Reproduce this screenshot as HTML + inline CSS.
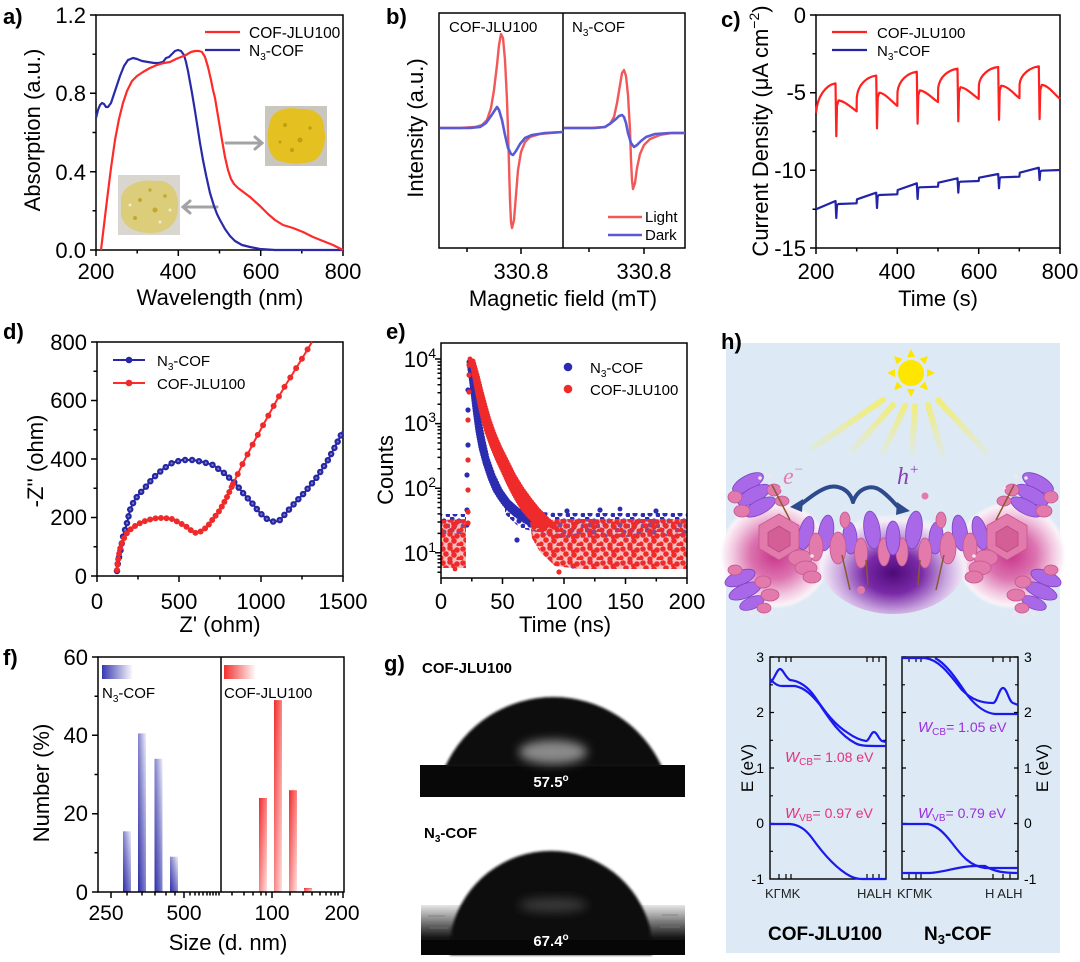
<!DOCTYPE html>
<html><head><meta charset="utf-8">
<style>
html,body{margin:0;padding:0;background:#fff}
svg{display:block}
text{font-family:"Liberation Sans",Arial,sans-serif}
</style></head>
<body>
<svg width="1080" height="962" viewBox="0 0 1080 962" xmlns="http://www.w3.org/2000/svg">
<defs>
  <pattern id="pr" width="20" height="14" patternUnits="userSpaceOnUse">
    <rect width="20" height="14" fill="#f47070" opacity="0.45"/>
    <circle cx="3" cy="3" r="2.8" fill="#ee2a2a"/><circle cx="10" cy="2" r="2.8" fill="#ee2a2a"/>
    <circle cx="17" cy="4" r="2.8" fill="#ee2a2a"/><circle cx="6" cy="8" r="2.8" fill="#ee2a2a"/>
    <circle cx="14" cy="9" r="2.8" fill="#ee2a2a"/><circle cx="1" cy="12" r="2.6" fill="#ee2a2a"/>
    <circle cx="10" cy="13" r="2.6" fill="#ee2a2a"/><circle cx="19" cy="13" r="2.6" fill="#ee2a2a"/>
    <circle cx="13" cy="5.5" r="2" fill="#ee2a2a"/>
  </pattern>
  <pattern id="pb" width="15" height="11" patternUnits="userSpaceOnUse">
    <circle cx="2" cy="2" r="2.6" fill="#2c2cb0"/><circle cx="9" cy="4" r="2.6" fill="#2c2cb0"/>
    <circle cx="5" cy="8" r="2.6" fill="#2c2cb0"/><circle cx="13" cy="9" r="2.4" fill="#2c2cb0"/>
  </pattern>
  <linearGradient id="gb" x1="0" y1="1" x2="1" y2="0">
    <stop offset="0" stop-color="#2b2ba6"/><stop offset="0.5" stop-color="#8484cc"/><stop offset="1" stop-color="#eeeefa"/>
  </linearGradient>
  <linearGradient id="gr" x1="0" y1="0" x2="1" y2="1">
    <stop offset="0" stop-color="#f02a2a"/><stop offset="0.5" stop-color="#f88484"/><stop offset="1" stop-color="#fde2e2"/>
  </linearGradient>
  <linearGradient id="lgb" x1="0" y1="0" x2="1" y2="0">
    <stop offset="0" stop-color="#3838b0"/><stop offset="1" stop-color="#ffffff"/>
  </linearGradient>
  <linearGradient id="lgr" x1="0" y1="0" x2="1" y2="0">
    <stop offset="0" stop-color="#f03030"/><stop offset="1" stop-color="#ffffff"/>
  </linearGradient>
  <radialGradient id="gpink">
    <stop offset="0" stop-color="#c9358a"/><stop offset="0.45" stop-color="#dc74b0"/>
    <stop offset="0.75" stop-color="#f2c8e0"/><stop offset="0.92" stop-color="#fbf0f6"/>
    <stop offset="1" stop-color="#ffffff" stop-opacity="0"/>
  </radialGradient>
  <radialGradient id="gpurp" cx="0.5" cy="0.62" r="0.55">
    <stop offset="0" stop-color="#4e0a78"/><stop offset="0.35" stop-color="#7a2aa8"/>
    <stop offset="0.65" stop-color="#c8a4de"/><stop offset="0.88" stop-color="#f4ecf8"/>
    <stop offset="1" stop-color="#ffffff" stop-opacity="0"/>
  </radialGradient>
  <linearGradient id="beam" gradientUnits="userSpaceOnUse" x1="0" y1="400" x2="0" y2="458">
    <stop offset="0" stop-color="#f2ee70" stop-opacity="0.95"/><stop offset="1" stop-color="#f2ee70" stop-opacity="0.05"/>
  </linearGradient>
  <linearGradient id="sub2" x1="0" y1="0" x2="0" y2="1">
    <stop offset="0" stop-color="#e6e6e6"/><stop offset="0.2" stop-color="#a8a8a8"/>
    <stop offset="0.45" stop-color="#555"/><stop offset="0.65" stop-color="#151515"/><stop offset="1" stop-color="#050505"/>
  </linearGradient>
  <filter id="bl" x="-20%" y="-20%" width="140%" height="140%"><feGaussianBlur stdDeviation="1.3"/></filter>
  <filter id="bl5" x="-50%" y="-50%" width="200%" height="200%"><feGaussianBlur stdDeviation="5"/></filter>
</defs>

<!-- ============ Panel a ============ -->
<text x="3" y="24" font-size="22" font-weight="bold">a)</text>
<rect x="96" y="15" width="247" height="235" fill="none" stroke="#000" stroke-width="1.5"/>
<path d="M96,250v6M178.3,250v6M260.7,250v6M343,250v6M137.2,250v3.5M219.5,250v3.5M301.8,250v3.5M96,250h-6M96,171.7h-6M96,93.3h-6M96,15h-6M96,210.8h-3.5M96,132.5h-3.5M96,54.2h-3.5" stroke="#000" stroke-width="1.5"/>
<g font-size="22" text-anchor="end">
<text x="86" y="258">0.0</text><text x="86" y="180">0.4</text><text x="86" y="101">0.8</text><text x="86" y="23">1.2</text>
</g>
<g font-size="22" text-anchor="middle">
<text x="96" y="279">200</text><text x="178" y="279">400</text><text x="261" y="279">600</text><text x="343" y="279">800</text>
<text x="220" y="305">Wavelength (nm)</text>
</g>
<text transform="translate(40,130) rotate(-90)" font-size="22" text-anchor="middle">Absorption (a.u.)</text>
<rect x="265" y="106" width="62" height="60" fill="#c9c6bf"/>
<path d="M270,122 C273,108 290,107 300,109 C313,108 324,114 324,128 C327,141 323,154 315,160 C305,165 289,164 279,161 C268,157 265,138 270,122 Z" fill="#e4c020"/>
<g fill="#c29e16"><circle cx="285" cy="125" r="2"/><circle cx="300" cy="140" r="2.5"/><circle cx="310" cy="128" r="1.8"/><circle cx="292" cy="150" r="2"/><circle cx="280" cy="142" r="1.5"/></g>
<rect x="118" y="175" width="62" height="60" fill="#d8d6cf"/>
<path d="M121,198 C124,184 140,179 155,181 C169,179 179,190 178,205 C179,221 170,231 155,233 C139,234 123,229 121,214 Z" fill="#dccb6a" opacity="0.85"/>
<g fill="#c6a62c"><circle cx="140" cy="200" r="2"/><circle cx="155" cy="210" r="2.5"/><circle cx="165" cy="196" r="1.8"/><circle cx="135" cy="218" r="2"/><circle cx="150" cy="190" r="1.6"/></g>
<g fill="#efeccf"><circle cx="130" cy="205" r="1.5"/><circle cx="160" cy="222" r="1.5"/><circle cx="170" cy="210" r="1.5"/></g>
<g stroke="#a3a3a3" stroke-width="3" fill="none" stroke-linecap="round">
<path d="M226,143 H261 M255,137 L262,143 L255,149"/>
<path d="M217,207 H184 M190,201 L183,207 L190,213"/>
</g>
<polyline fill="none" stroke="#2a2aa8" stroke-width="2.2" stroke-linejoin="round" points="96,118 98,110 100,105 102,103 104,104 106,107 108,107 111,103 114,94 117,85 120,76 124,66 128,60 133,58 137,59 142,61 148,62 154,63 159,63 163,62 166,58 169,57 172,54 175,51 178,50 181,51 184,55 186,62 188,71 190,82 192,93 195,111 198,130 200,143 203,160 206,175 210,193 214,206 217,214 220,220 225,229 230,236 235,241 242,245 250,247 260,249 275,250 343,250"/>
<polyline fill="none" stroke="#ff2a2a" stroke-width="2.2" stroke-linejoin="round" points="101,250 104,225 107,200 111,168 115,140 119,119 123,103 127,91 132,81 137,76 143,72 150,68 157,65 164,63 170,62 176,59 181,57 186,55 191,52 195,51 199,51 202,52 205,57 208,67 211,80 213,90 215,98 218,116 222,140 225,157 228,170 231,179 234,184 238,188 242,191 250,197 260,206 268,214 275,220 283,225 293,228 303,232 313,237 323,241 333,245 343,250"/>
<line x1="205" y1="32" x2="240" y2="32" stroke="#ff2a2a" stroke-width="2.2"/>
<line x1="205" y1="50" x2="240" y2="50" stroke="#2a2aa8" stroke-width="2.2"/>
<text x="249" y="38" font-size="15.5">COF-JLU100</text>
<text x="249" y="56" font-size="15.5">N<tspan font-size="10" dy="4">3</tspan><tspan dy="-4">-COF</tspan></text>

<!-- ============ Panel b ============ -->
<text x="386" y="24" font-size="22" font-weight="bold">b)</text>
<rect x="439" y="13" width="246" height="235" fill="none" stroke="#000" stroke-width="1.5"/>
<line x1="563" y1="13" x2="563" y2="248" stroke="#000" stroke-width="1.5"/>
<path d="M467,248v4M521,248v6M589,248v4M644,248v6" stroke="#000" stroke-width="1.5"/>
<g font-size="22" text-anchor="middle">
<text x="521" y="279">330.8</text><text x="644" y="279">330.8</text>
<text x="563" y="306">Magnetic field (mT)</text>
</g>
<text transform="translate(423,128) rotate(-90)" font-size="22" text-anchor="middle">Intensity (a.u.)</text>
<text x="449" y="32" font-size="15">COF-JLU100</text>
<text x="572" y="32" font-size="15">N<tspan font-size="10" dy="4">3</tspan><tspan dy="-4">-COF</tspan></text>
<polyline fill="none" stroke="#f25858" stroke-width="2.4" stroke-linejoin="round" points="440,128 460,128 475,127 482,125 487,120 491,108 494,90 497,65 499,45 501,34 503,38 505,60 507,100 508,130 509,165 510,200 511,222 512,228 514,220 516,195 518,170 521,152 525,142 530,137 540,134 550,133 563,132"/>
<polyline fill="none" stroke="#5a5ad6" stroke-width="2.6" stroke-linejoin="round" points="440,128 470,128 480,127 486,123 491,116 495,110 497,107 499,110 502,120 505,135 508,148 511,154 513,155 516,151 520,144 525,138 532,135 545,133 563,132"/>
<polyline fill="none" stroke="#f25858" stroke-width="2.4" stroke-linejoin="round" points="564,128 590,128 605,127 610,124 614,117 617,103 620,85 622,73 624,70 626,76 628,95 630,130 631,160 632,180 633,189 635,183 637,168 640,154 644,145 650,139 660,135 672,133 685,133"/>
<polyline fill="none" stroke="#5a5ad6" stroke-width="2.6" stroke-linejoin="round" points="564,128 595,128 605,127 611,123 616,119 619,116 622,115 624,117 626,123 628,133 631,143 634,147 637,145 641,141 646,137 655,134 670,133 685,133"/>
<line x1="608" y1="217" x2="642" y2="217" stroke="#f25858" stroke-width="2.4"/>
<line x1="608" y1="235" x2="642" y2="235" stroke="#5a5ad6" stroke-width="2.6"/>
<text x="645" y="222" font-size="15">Light</text>
<text x="645" y="240" font-size="15">Dark</text>

<!-- ============ Panel c ============ -->
<text x="721" y="27" font-size="22" font-weight="bold">c)</text>
<rect x="816" y="15" width="244" height="233" fill="none" stroke="#000" stroke-width="1.5"/>
<path d="M816,248v6M897.3,248v6M978.7,248v6M1060,248v6M856.7,248v3.5M938,248v3.5M1019.3,248v3.5M816,15h-6M816,92.7h-6M816,170.3h-6M816,248h-6M816,53.8h-3.5M816,131.5h-3.5M816,209.2h-3.5" stroke="#000" stroke-width="1.5"/>
<g font-size="22" text-anchor="end">
<text x="806" y="23">0</text><text x="806" y="100">-5</text><text x="806" y="178">-10</text><text x="806" y="256">-15</text>
</g>
<g font-size="22" text-anchor="middle">
<text x="816" y="279">200</text><text x="897" y="279">400</text><text x="979" y="279">600</text><text x="1060" y="279">800</text>
<text x="938" y="306">Time (s)</text>
</g>
<text transform="translate(768,131) rotate(-90)" font-size="22" text-anchor="middle">Current Density (μA cm<tspan font-size="14" dy="-9">−2</tspan><tspan dy="9">)</tspan></text>
<path fill="none" stroke="#ff2020" stroke-width="2.2" stroke-linejoin="round" d="M816,112.9 C817.3,96 826,85 835.5,83.3 L836.3,136.2 L837,105.4 L838.5,100.4 C844,101 851,107 856.6,111.3 L856.8,97.3 C858,84 867,77 876.2,75.6 L877,128.4 L877.7,97.7 L879.2,92.7 C885,93 892,102 897.3,105.9 L897.5,91.9 C898.7,80 908,73 916.8,71.7 L917.6,123.7 L918.3,95.3 L919.8,90.3 C926,91 933,99 938,102 L938.2,88 C939.4,77 948,70 957.5,68.6 L958.3,121.4 L959,92.2 L960.5,87.2 C967,88 974,96 978.7,98.9 L978.9,84.9 C980,75 989,68 998.2,67 L999,119.8 L999.7,90.7 L1001.2,85.7 C1008,86 1015,95 1019.4,98.1 L1019.6,84.1 C1020.8,74 1030,67.5 1038.8,66.3 L1039.6,119.1 L1040.3,89.9 L1041.8,84.9 C1048,85 1055,95 1060,98.9"/>
<path fill="none" stroke="#2323a8" stroke-width="2.2" stroke-linejoin="round" d="M816,209.3 L835.5,201 L836.3,218 L837,205 L838.5,204 L856.6,203.3 L857,199.3 L876.2,192.7 L877,208 L877.7,196 L879.2,195 L897.3,194.3 L897.7,190 L916.8,183.3 L917.6,199 L918.3,188 L919.8,187.3 L938,186.7 L938.4,182.7 L957.5,178.3 L958.3,192.7 L959,182.5 L960.5,181.7 L978.7,181 L979.1,177.7 L998.2,174 L999,188.3 L999.7,178 L1001.2,177.3 L1019.4,176.7 L1019.8,172.7 L1038.8,167.7 L1039.6,180 L1040.3,171.5 L1041.8,170.7 L1060,170"/>
<line x1="832" y1="32" x2="867" y2="32" stroke="#ff2020" stroke-width="2.2"/>
<line x1="832" y1="50" x2="867" y2="50" stroke="#2323a8" stroke-width="2.2"/>
<text x="877" y="38" font-size="15">COF-JLU100</text>
<text x="877" y="56" font-size="15">N<tspan font-size="10" dy="4">3</tspan><tspan dy="-4">-COF</tspan></text>

<!-- ============ Panel d ============ -->
<text x="3" y="339" font-size="22" font-weight="bold">d)</text>
<rect x="97" y="342" width="246" height="234" fill="none" stroke="#000" stroke-width="1.5"/>
<path d="M97,576v6M179,576v6M261,576v6M343,576v6M138,576v3.5M220,576v3.5M302,576v3.5M97,576h-6M97,517.5h-6M97,459h-6M97,400.5h-6M97,342h-6M97,546.8h-3.5M97,488.3h-3.5M97,429.8h-3.5M97,371.3h-3.5" stroke="#000" stroke-width="1.5"/>
<g font-size="22" text-anchor="end">
<text x="87" y="584">0</text><text x="87" y="525">200</text><text x="87" y="467">400</text><text x="87" y="408">600</text><text x="87" y="350">800</text>
</g>
<g font-size="22" text-anchor="middle">
<text x="97" y="609">0</text><text x="179" y="609">500</text><text x="261" y="609">1000</text><text x="343" y="609">1500</text>
<text x="220" y="632">Z' (ohm)</text>
</g>
<text transform="translate(43,461) rotate(-90)" font-size="22" text-anchor="middle">-Z'' (ohm)</text>
<g fill="none" stroke-linejoin="round">
<polyline stroke="#2727a3" stroke-width="2" points="117,571 118,562 120,553 123,537 127,523 130,510 134,501 139,494 144,489 153,478 163,469 172,463 182,460 193,460 203,462 213,465 224,473 235,483 243,493 252,503 260,513 267,519 271,521 275,522 280,520 286,513 293,505 305,492 317,477 328,460 337,443 343,431"/>
<polyline stroke="#2727a3" stroke-width="6.5" stroke-linecap="round" stroke-dasharray="0 7" points="117,571 118,562 120,553 123,537 127,523 130,510 134,501 139,494 144,489 153,478 163,469 172,463 182,460 193,460 203,462 213,465 224,473 235,483 243,493 252,503 260,513 267,519 271,521 275,522 280,520 286,513 293,505 305,492 317,477 328,460 337,443 343,431"/>
<polyline stroke="#7a7ad0" stroke-width="2.2" stroke-linecap="round" stroke-dasharray="0 7" points="117,571 118,562 120,553 123,537 127,523 130,510 134,501 139,494 144,489 153,478 163,469 172,463 182,460 193,460 203,462 213,465 224,473 235,483 243,493 252,503 260,513 267,519 271,521 275,522 280,520 286,513 293,505 305,492 317,477 328,460 337,443 343,431"/>
<polyline stroke="#ff2a2a" stroke-width="2" points="117,570 118,560 120,549 123,540 127,533 132,528 138,524 145,521 152,519 158,518 165,518 172,519 180,523 187,527 193,532 196,533 200,532 207,527 213,519 220,510 227,497 233,484 243,463 255,440 267,418 278,398 285,386 295,370 303,357 312,342"/>
<polyline stroke="#ee2a2a" stroke-width="6" stroke-linecap="round" stroke-dasharray="0 5.5" points="117,570 118,560 120,549 123,540 127,533 132,528 138,524 145,521 152,519 158,518 165,518 172,519 180,523 187,527 193,532 196,533 200,532 207,527 213,519 220,510 227,497 233,484"/>
<polyline stroke="#ee2a2a" stroke-width="6" stroke-linecap="round" stroke-dasharray="0 11" points="233,484 243,463 255,440 267,418 278,398 285,386 295,370 303,357 312,342"/>
</g>
<line x1="113" y1="360" x2="145" y2="360" stroke="#2727a3" stroke-width="2"/><circle cx="129" cy="360" r="3.3" fill="#2727a3"/>
<line x1="113" y1="383" x2="145" y2="383" stroke="#ff2a2a" stroke-width="2"/><circle cx="129" cy="383" r="3.3" fill="#ee2a2a"/>
<text x="157" y="366" font-size="15">N<tspan font-size="10" dy="4">3</tspan><tspan dy="-4">-COF</tspan></text>
<text x="157" y="389" font-size="15">COF-JLU100</text>

<!-- ============ Panel e ============ -->
<text x="386" y="339" font-size="22" font-weight="bold">e)</text>
<rect x="441" y="514" width="25" height="20" fill="url(#pb)"/>
<polygon points="505,505 520,511 560,513 687,513 687,536 560,538 520,528 505,514" fill="url(#pb)"/>
<polygon points="469,360 471,366 473,385 476,410 479,432 482,448 486,463 491,478 496,490 501,498 506,505 513,512 521,518 532,524 541,526 530,516 519,508 510,500 502,489 495,475 489,458 484,440 480,420 476,397 472,372" fill="#2c2cb0"/>
<polyline fill="none" stroke="#2c2cb0" stroke-width="5" stroke-linecap="round" stroke-dasharray="0 2.6" points="469,362 470,370 472,385 475,410 478,432 481,448 485,463 490,478 495,490 500,498 505,505 512,512 520,518 530,524"/>
<polyline fill="none" stroke="#2c2cb0" stroke-width="5" stroke-linecap="round" stroke-dasharray="0 3" points="472,375 475,395 479,420 483,440 487,458 493,475 500,490 508,502 517,511 528,518 540,523"/>
<g fill="#2c2cb0"><circle cx="467" cy="525" r="2.6"/><circle cx="467" cy="510" r="2.6"/><circle cx="467" cy="475" r="2.6"/><circle cx="468" cy="445" r="2.6"/><circle cx="468" cy="410" r="2.6"/><circle cx="468" cy="390" r="2.6"/><circle cx="517" cy="540" r="2.6"/><circle cx="573" cy="566" r="2.6"/><circle cx="567" cy="511" r="2.6"/><circle cx="600" cy="510" r="2.6"/><circle cx="656" cy="511" r="2.6"/><circle cx="620" cy="509" r="2.4"/></g>
<polygon points="441,520 466,519 466,568 441,568" fill="url(#pr)"/>
<polygon points="530,522 560,519 687,519 687,569 580,569 555,566 540,552 532,538" fill="url(#pr)"/>
<polygon points="470,358 473,368 477,390 480,405 483,418 487,432 492,446 497,458 503,471 508,482 513,492 518,501 523,509 528,515 533,520 545,526 556,530 548,520 538,510 530,500 522,489 514,476 507,462 500,448 494,434 489,420 485,406 481,391 477,375 473,362" fill="#ee2a2a"/>
<polyline fill="none" stroke="#ee2a2a" stroke-width="5" stroke-linecap="round" stroke-dasharray="0 2.6" points="470,359 473,368 477,390 480,405 483,418 487,432 492,446 497,458 503,471 508,482 513,492 518,501 523,509 528,515 533,520 540,526 547,530"/>
<polyline fill="none" stroke="#ee2a2a" stroke-width="5" stroke-linecap="round" stroke-dasharray="0 2.8" points="473,361 477,375 481,391 485,406 489,420 494,434 500,448 507,462 514,476 522,489 530,500 538,510 548,520 558,530"/>
<g fill="#ee2a2a"><circle cx="468" cy="523" r="2.6"/><circle cx="468" cy="512" r="2.6"/><circle cx="468" cy="490" r="2.6"/><circle cx="468" cy="460" r="2.6"/><circle cx="468" cy="420" r="2.6"/><circle cx="469" cy="392" r="2.6"/><circle cx="469" cy="375" r="2.6"/><circle cx="469" cy="365" r="2.6"/><circle cx="559" cy="572" r="2.6"/><circle cx="613" cy="566" r="2.6"/><circle cx="455" cy="569" r="2.4"/></g>
<rect x="441" y="343" width="246" height="235" fill="none" stroke="#000" stroke-width="1.5"/>
<path d="M441,578v6M502.5,578v6M564,578v6M625.5,578v6M687,578v6M471.8,578v3.5M533.3,578v3.5M594.8,578v3.5M656.3,578v3.5M441,359h-6M441,423.6h-6M441,488.2h-6M441,552.8h-6M441,533.4h-3.5M441,522h-3.5M441,513.9h-3.5M441,507.6h-3.5M441,502.5h-3.5M441,498.2h-3.5M441,494.5h-3.5M441,491.2h-3.5M441,468.8h-3.5M441,457.4h-3.5M441,449.3h-3.5M441,443h-3.5M441,437.9h-3.5M441,433.6h-3.5M441,429.9h-3.5M441,426.6h-3.5M441,404.2h-3.5M441,392.8h-3.5M441,384.7h-3.5M441,378.4h-3.5M441,373.3h-3.5M441,369h-3.5M441,365.3h-3.5M441,362h-3.5M441,572.2h-3.5M441,567.1h-3.5M441,562.8h-3.5M441,559.1h-3.5M441,555.8h-3.5" stroke="#000" stroke-width="1.5"/>
<g font-size="22" text-anchor="end">
<text x="436" y="367">10<tspan font-size="14" dy="-9">4</tspan></text>
<text x="436" y="431">10<tspan font-size="14" dy="-9">3</tspan></text>
<text x="436" y="496">10<tspan font-size="14" dy="-9">2</tspan></text>
<text x="436" y="561">10<tspan font-size="14" dy="-9">1</tspan></text>
</g>
<g font-size="22" text-anchor="middle">
<text x="441" y="609">0</text><text x="502.5" y="609">50</text><text x="564" y="609">100</text><text x="625.5" y="609">150</text><text x="687" y="609">200</text>
<text x="565" y="632">Time (ns)</text>
</g>
<text transform="translate(393,470) rotate(-90)" font-size="22" text-anchor="middle">Counts</text>
<circle cx="568" cy="367" r="4.3" fill="#2c2cb0"/>
<circle cx="568" cy="389" r="4.3" fill="#ee2a2a"/>
<text x="590" y="373" font-size="15">N<tspan font-size="10" dy="4">3</tspan><tspan dy="-4">-COF</tspan></text>
<text x="590" y="395" font-size="15">COF-JLU100</text>

<!-- ============ Panel f ============ -->
<text x="3" y="665" font-size="22" font-weight="bold">f)</text>
<rect x="123" y="831.3" width="8" height="60.7" fill="url(#gb)"/>
<rect x="138" y="733.4" width="8" height="158.6" fill="url(#gb)"/>
<rect x="154.5" y="758.8" width="8" height="133.2" fill="url(#gb)"/>
<rect x="170" y="856.7" width="8" height="35.3" fill="url(#gb)"/>
<rect x="259" y="798" width="8" height="94" fill="url(#gr)"/>
<rect x="274" y="700.1" width="8" height="191.9" fill="url(#gr)"/>
<rect x="289" y="790.2" width="8" height="101.8" fill="url(#gr)"/>
<rect x="304" y="888" width="8" height="4" fill="url(#gr)"/>
<rect x="98" y="657" width="246" height="235" fill="none" stroke="#000" stroke-width="1.5"/>
<line x1="221" y1="657" x2="221" y2="892" stroke="#000" stroke-width="1.5"/>
<path d="M98,892h-6M98,813.7h-6M98,735.3h-6M98,657h-6M98,852.8h-3.5M98,774.5h-3.5M98,696.2h-3.5M111,892v6M184,892v6M272,892v6M343,892v6M127,892v3.5M142,892v3.5M155,892v3.5M166,892v3.5M175,892v3.5M190,892v3.5M195,892v3.5M199,892v3.5M203,892v3.5M207,892v3.5M210,892v3.5M213,892v3.5M216,892v3.5M219,892v3.5M232,892v3.5M244,892v3.5M253,892v3.5M261,892v3.5M266,892v3.5M290,892v3.5M303,892v3.5M312,892v3.5M320,892v3.5M326,892v3.5M331,892v3.5M335,892v3.5M338,892v3.5" stroke="#000" stroke-width="1.5"/>
<g font-size="22" text-anchor="end">
<text x="88" y="900">0</text><text x="88" y="821">20</text><text x="88" y="743">40</text><text x="88" y="665">60</text>
</g>
<g font-size="21" text-anchor="middle">
<text x="106" y="920">250</text><text x="184" y="920">500</text><text x="272" y="920">100</text><text x="342" y="920">200</text>
</g>
<text x="228" y="950" font-size="22" text-anchor="middle">Size (d. nm)</text>
<text transform="translate(49,783) rotate(-90)" font-size="22" text-anchor="middle">Number (%)</text>
<rect x="102" y="665" width="31" height="14" fill="url(#lgb)"/>
<rect x="224" y="665" width="32" height="14" fill="url(#lgr)"/>
<text x="102" y="698" font-size="15">N<tspan font-size="10" dy="4">3</tspan><tspan dy="-4">-COF</tspan></text>
<text x="224" y="698" font-size="15">COF-JLU100</text>

<!-- ============ Panel g ============ -->
<text x="384" y="671" font-size="22" font-weight="bold">g)</text>
<text x="422" y="673" font-size="15" font-weight="bold">COF-JLU100</text>
<text x="424" y="838" font-size="15" font-weight="bold">N<tspan font-size="10" dy="4">3</tspan><tspan dy="-4">-COF</tspan></text>
<rect x="420" y="765" width="265" height="32" fill="#080808"/>
<path d="M420,765 H685" stroke="#666" stroke-width="1.5" filter="url(#bl)"/>
<path d="M445,767 A119.1,119.1 0 0 1 662,767 Z" fill="#0c0c0c" filter="url(#bl)"/>
<ellipse cx="553" cy="752" rx="34" ry="12" fill="#8a8a8a" filter="url(#bl5)"/>
<text x="551" y="787" font-size="15" font-weight="bold" fill="#fff" text-anchor="middle">57.5<tspan font-size="10" dy="-6">o</tspan></text>
<rect x="421" y="905" width="264" height="50" fill="url(#sub2)"/>
<g stroke="#777" stroke-width="1" opacity="0.7"><path d="M425,922 H450 M430,928 H448 M655,921 H683 M660,927 H680 M428,916 H445 M662,915 H678"/></g>
<path d="M452,928 A102.1,102.1 0 0 1 650,928 L652,955 L450,955 Z" fill="#0a0a0a" filter="url(#bl)"/>
<rect x="421" y="940" width="264" height="15" fill="#060606"/>
<ellipse cx="553" cy="905" rx="34" ry="7" fill="#3a3a3a" filter="url(#bl5)"/>
<text x="551" y="946" font-size="15" font-weight="bold" fill="#fff" text-anchor="middle">67.4<tspan font-size="10" dy="-6">o</tspan></text>

<!-- ============ Panel h ============ -->
<rect x="726" y="343" width="334" height="610" fill="#dde9f4"/>
<text x="721" y="349" font-size="22" font-weight="bold">h)</text>
<g stroke="url(#beam)" stroke-width="6" stroke-linecap="round" fill="none">
<path d="M883,400 L813,448"/><path d="M893,405 L853,450"/><path d="M905,406 L883,453"/>
<path d="M915,406 L912,453"/><path d="M928,405 L943,457"/><path d="M938,400 L987,453"/>
</g>
<g fill="#ffe600">
<circle cx="911" cy="373" r="13"/>
<polygon points="911,349 907,357 915,357"/><polygon points="935,373 927,369 927,377"/>
<polygon points="911,397 907,389 915,389"/><polygon points="887,373 895,369 895,377"/>
<polygon points="928,356 925.1,364.5 919.5,358.9"/><polygon points="928,390 919.5,387.1 925.1,381.5"/>
<polygon points="894,390 902.5,387.1 896.9,381.5"/><polygon points="894,356 896.9,364.5 902.5,358.9"/>
</g>
<ellipse cx="775" cy="555" rx="56" ry="54" fill="url(#gpink)"/>
<ellipse cx="1011" cy="555" rx="56" ry="54" fill="url(#gpink)"/>
<ellipse cx="893" cy="560" rx="74" ry="54" fill="url(#gpurp)"/>
<g id="lh">
  <g fill="#a868e8" stroke="#7a42c2" stroke-width="0.8">
    <ellipse cx="748" cy="483" rx="17" ry="7.5" transform="rotate(-28 748 483)"/>
    <ellipse cx="754" cy="495" rx="18" ry="7.5" transform="rotate(-28 754 495)"/>
    <ellipse cx="760" cy="507" rx="17" ry="7" transform="rotate(-28 760 507)"/>
    <ellipse cx="740" cy="578" rx="16" ry="7" transform="rotate(-22 740 578)"/>
    <ellipse cx="745" cy="591" rx="17" ry="7" transform="rotate(-22 745 591)"/>
    <ellipse cx="752" cy="603" rx="13" ry="6" transform="rotate(-22 752 603)"/>
    <ellipse cx="806" cy="533" rx="7" ry="17" transform="rotate(14 806 533)"/>
    <ellipse cx="826" cy="533" rx="7.5" ry="18" transform="rotate(8 826 533)"/>
    <ellipse cx="850" cy="538" rx="7" ry="16" transform="rotate(-4 850 538)"/>
    <ellipse cx="872" cy="530" rx="8" ry="19" transform="rotate(-8 872 530)"/>
  </g>
  <g fill="#e27aac" stroke="#c55590" stroke-width="0.8">
    <ellipse cx="735" cy="497" rx="7" ry="6"/><ellipse cx="742" cy="511" rx="8" ry="6"/>
    <ellipse cx="774" cy="490" rx="7" ry="6"/><ellipse cx="782" cy="501" rx="7" ry="5"/>
    <ellipse cx="735" cy="570" rx="7" ry="5"/><ellipse cx="763" cy="582" rx="8" ry="6"/>
    <ellipse cx="770" cy="595" rx="9" ry="6"/><ellipse cx="764" cy="608" rx="7" ry="5"/>
    <polygon points="779,514 799,525.5 799,548.5 779,560 759,548.5 759,525.5"/>
    <ellipse cx="800" cy="558" rx="12" ry="8"/><ellipse cx="806" cy="568" rx="11" ry="7"/><ellipse cx="812" cy="577" rx="9" ry="6"/>
    <ellipse cx="816" cy="547" rx="7" ry="14"/><ellipse cx="838" cy="548" rx="8" ry="16"/>
    <ellipse cx="861" cy="553" rx="6.5" ry="15"/><ellipse cx="845" cy="520" rx="5" ry="8"/>
    <ellipse cx="884" cy="552" rx="6" ry="14"/>
  </g>
  <polygon points="779,526 790,532.5 790,545.5 779,552 768,545.5 768,532.5" fill="#d45f96" stroke="#b84b82" stroke-width="0.8"/>
  <g stroke="#8a5a2a" stroke-width="1.5"><path d="M772,485 L790,520 M842,555 L850,590 M866,560 L868,585"/></g>
  <g fill="#f5e6ea"><circle cx="760" cy="478" r="1.8"/><circle cx="770" cy="476" r="1.8"/><circle cx="782" cy="488" r="1.8"/><circle cx="752" cy="614" r="1.8"/><circle cx="762" cy="616" r="1.8"/><circle cx="772" cy="614" r="1.8"/><circle cx="812" cy="556" r="1.8"/><circle cx="820" cy="562" r="1.8"/></g>
</g>
<use href="#lh" transform="translate(1786,0) scale(-1,1)"/>
<ellipse cx="893" cy="538" rx="7" ry="17" fill="#a868e8" stroke="#7a42c2" stroke-width="0.8"/>
<circle cx="861" cy="590" r="4" fill="#e27aac"/><circle cx="925" cy="496" r="3.5" fill="#e27aac"/>
<g fill="none" stroke="#2c4a8c" stroke-width="4" stroke-linecap="round">
<path d="M853,502 C849,488 836,484 826,488 C816,492 808,499 800,505"/>
<path d="M853,502 C858,488 871,484 880,490 C888,495 894,503 899,508"/>
</g>
<polygon points="790,507 803,499 802,512" fill="#2c4a8c"/>
<polygon points="910,511 897,502 896,515" fill="#2c4a8c"/>
<text x="783" y="484" font-size="24" font-style="italic" fill="#e47cb4" style="font-family:'Liberation Serif',serif">e<tspan font-size="15" dy="-10">−</tspan></text>
<text x="897" y="484" font-size="24" font-style="italic" fill="#8a3fb4" style="font-family:'Liberation Serif',serif">h<tspan font-size="15" dy="-10">+</tspan></text>
<rect x="770" y="657" width="116" height="222" fill="none" stroke="#000" stroke-width="1.4"/>
<rect x="902" y="657" width="116" height="222" fill="none" stroke="#000" stroke-width="1.4"/>
<path d="M770,657h4M770,684.8h3M770,712.5h4M770,740.3h3M770,768h4M770,795.8h3M770,823.5h4M770,851.3h3M886,657h-4M886,684.8h-3M886,712.5h-4M886,740.3h-3M886,768h-4M886,795.8h-3M886,823.5h-4M886,851.3h-3M902,657h4M902,684.8h3M902,712.5h4M902,740.3h3M902,768h4M902,795.8h3M902,823.5h4M902,851.3h3M1018,657h-4M1018,684.8h-3M1018,712.5h-4M1018,740.3h-3M1018,768h-4M1018,795.8h-3M1018,823.5h-4M1018,851.3h-3M779,879v-5M786,879v-5M791,879v-5M867,879v-5M873,879v-5M879,879v-5M779,657v5M786,657v5M791,657v5M867,657v5M873,657v5M879,657v5M909,879v-5M916,879v-5M921,879v-5M993,879v-5M1003,879v-5M1010,879v-5M909,657v5M916,657v5M921,657v5M993,657v5M1003,657v5M1010,657v5" stroke="#000" stroke-width="1.2"/>
<g fill="none" stroke="#1a1aee" stroke-width="2.2" stroke-linejoin="round">
<path d="M770,683 C774,680 777,669 780,669 C783,669 785,677 790,680 C800,681 808,687 815,697 C825,712 835,725 848,733 C855,738 860,740 866,741 C869,741 871,732 874,732 C877,732 879,740 882,741 L886,742"/>
<path d="M770,679 C774,683 777,686 782,686 L795,686 C805,688 812,695 820,705 C830,720 840,735 855,743 C860,746 865,746 886,746"/>
<path d="M770,824 L790,824 C800,825 806,830 812,838 C822,852 835,868 850,876 C854,878 858,879 862,879 L886,879"/>
<path d="M902,658 L925,658 C940,660 950,675 962,690 C972,700 982,703 993,703 C997,703 999,688 1003,688 C1007,688 1009,702 1013,703 L1018,705"/>
<path d="M935,658 C948,665 958,682 968,696 C976,706 985,713 995,714 L1018,714"/>
<path d="M902,824 L928,824 C938,826 945,834 952,843 C962,856 970,866 985,868 L1018,868"/>
<path d="M902,873 L930,873 C945,872 960,866 975,866 L985,866 C995,872 1005,873 1018,873"/>
</g>
<g font-size="14" text-anchor="end">
<text x="764" y="662">3</text><text x="764" y="717">2</text><text x="764" y="773">1</text><text x="764" y="828">0</text><text x="764" y="884">-1</text>
</g>
<g font-size="14">
<text x="1024" y="662">3</text><text x="1024" y="717">2</text><text x="1024" y="773">1</text><text x="1024" y="828">0</text><text x="1024" y="884">-1</text>
</g>
<text transform="translate(753,768) rotate(-90)" font-size="17" text-anchor="middle">E (eV)</text>
<text transform="translate(1048,768) rotate(-90)" font-size="17" text-anchor="middle">E (eV)</text>
<g font-size="13" fill="#222">
<text x="765" y="898">KΓMK</text><text x="857" y="898">HALH</text>
<text x="897" y="898">KΓMK</text><text x="985" y="898">H ALH</text>
</g>
<text x="785" y="762" font-size="14" fill="#e8307a"><tspan font-style="italic" font-size="15">W</tspan><tspan font-size="10" dy="3">CB</tspan><tspan dy="-3">= 1.08 eV</tspan></text>
<text x="785" y="818" font-size="14" fill="#e8307a"><tspan font-style="italic" font-size="15">W</tspan><tspan font-size="10" dy="3">VB</tspan><tspan dy="-3">= 0.97 eV</tspan></text>
<text x="918" y="732" font-size="14" fill="#9a30dd"><tspan font-style="italic" font-size="15">W</tspan><tspan font-size="10" dy="3">CB</tspan><tspan dy="-3">= 1.05 eV</tspan></text>
<text x="918" y="818" font-size="14" fill="#9a30dd"><tspan font-style="italic" font-size="15">W</tspan><tspan font-size="10" dy="3">VB</tspan><tspan dy="-3">= 0.79 eV</tspan></text>
<text x="768" y="940" font-size="19" font-weight="bold">COF-JLU100</text>
<text x="924" y="940" font-size="19" font-weight="bold">N<tspan font-size="13" dy="4">3</tspan><tspan dy="-4">-COF</tspan></text>
</svg>
</body></html>
